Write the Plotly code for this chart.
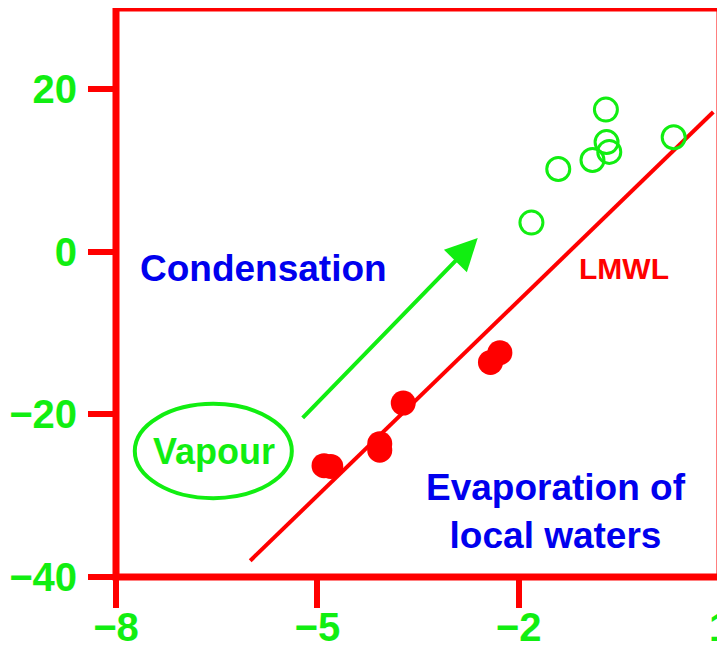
import plotly.graph_objects as go

# Data (delta 18O, delta D)
local_x = [-4.90, -4.80, -4.07, -4.07, -3.72, -2.42, -2.28]
local_y = [-26.3, -26.4, -23.6, -24.4, -18.6, -13.6, -12.4]
vapour_x = [-1.81, -1.41, -0.90, -0.65, -0.69, -0.70, 0.31]
vapour_y = [3.6, 10.2, 11.3, 12.3, 13.5, 17.5, 14.1]
lmwl_x = [-6.0, 0.9]
lmwl_y = [-38.0, 17.2]
x_ticks = [-8, -5, -2, 1]
y_ticks = [-40, -20, 0, 20]

RED = "#ff0000"
GREEN = "#11ee11"
BLUE = "#0000ee"
FONT = "Liberation Sans"

fig = go.Figure()
fig.add_trace(go.Scatter(x=lmwl_x, y=lmwl_y, mode="lines",
                         line=dict(color=RED, width=4), hoverinfo="skip"))
fig.add_trace(go.Scatter(x=local_x, y=local_y, mode="markers",
                         marker=dict(color=RED, size=25, line=dict(width=0))))
fig.add_trace(go.Scatter(x=vapour_x, y=vapour_y, mode="markers",
                         marker=dict(color="rgba(0,0,0,0)", size=23,
                                     line=dict(color=GREEN, width=3))))

axis_common = dict(showgrid=False, zeroline=False, showline=False,
                   automargin=False, ticklabeloverflow="allow",
                   ticks="outside", tickcolor=RED, tickwidth=6,
                   tickfont=dict(family=FONT, size=40, color=GREEN,
                                 weight="bold"))

fig.update_xaxes(range=[-8, 1], tickvals=x_ticks, ticklen=30,
                 ticklabelstandoff=-15, **axis_common)
fig.update_yaxes(range=[-40, 30], tickvals=y_ticks, ticklen=27,
                 ticklabelstandoff=3, **axis_common)

# Frame around the plot area
fig.add_shape(type="rect", xref="paper", yref="paper", x0=0, x1=1, y0=0, y1=1,
              line=dict(color=RED, width=7), layer="above")

# Arrow (condensation direction)
fig.add_annotation(x=-2.61, y=1.7, ax=-5.24, ay=-20.6, xref="x", yref="y",
                   axref="x", ayref="y", showarrow=True, arrowhead=2,
                   arrowsize=1.6, arrowwidth=4, arrowcolor=GREEN, text="")

fig.add_annotation(x=-5.80, y=-2.0, text="Condensation", showarrow=False,
                   font=dict(family=FONT, size=37, color=BLUE, weight="bold"))
fig.add_annotation(x=-0.43, y=-2.0, text="LMWL", showarrow=False,
                   font=dict(family=FONT, size=30, color=RED, weight="bold"))
fig.add_annotation(x=-1.44, y=-31.9, text="Evaporation of<br>local waters",
                   showarrow=False, align="center",
                   font=dict(family=FONT, size=37, color=BLUE, weight="bold"))
fig.add_annotation(x=-6.54, y=-24.6, text="Vapour", showarrow=False,
                   font=dict(family=FONT, size=36, color=GREEN, weight="bold"))
fig.add_shape(type="circle", xref="x", yref="y", x0=-7.72, x1=-5.38,
              y0=-30.3, y1=-18.7, line=dict(color=GREEN, width=4))

# The page body adds an 8px offset; margins compensate for it
fig.update_layout(width=725, height=650, showlegend=False,
                  plot_bgcolor="white", paper_bgcolor="white",
                  margin=dict(l=108, r=12.5, t=0, b=81),
                  font=dict(family=FONT))
fig.write_html("out.html")
